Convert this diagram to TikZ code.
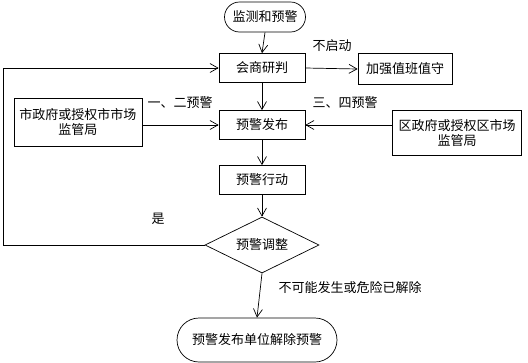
\documentclass[tikz,border=0pt]{standalone}
\usepackage{fontspec}
\setmainfont{Noto Sans CJK SC}
\usetikzlibrary{arrows.meta, shapes.geometric, shapes.misc}

\begin{document}
\begin{tikzpicture}[
    x=1pt, y=-1pt,
    line width=0.7pt,
    font=\fontsize{13}{15.5}\selectfont,
    >={Straight Barb[length=8pt,width=9pt]},
    stepbox/.style={
        draw, rectangle,
        minimum width=86pt,
        minimum height=29pt,
        inner sep=2pt
    },
    orgbox/.style={
        draw, rectangle,
        align=center,
        inner sep=2pt
    },
    endpoint/.style={
        draw, rounded rectangle,
        inner sep=2pt
    },
    choice/.style={
        draw, diamond, aspect=2,
        minimum width=114pt,
        minimum height=56pt,
        inner sep=0pt
    }
]
    % 画布大小
    \useasboundingbox (0,0) rectangle (528,362);

    % 主流程节点
    \node[endpoint, minimum width=85pt, minimum height=30pt] (monitor) at (265,17) {监测和预警};
    \node[stepbox] (consult) at (262,68) {会商研判};
    \node[stepbox, minimum width=94pt, minimum height=31pt] (duty) at (405,69) {加强值班值守};
    \node[stepbox] (issue) at (262,125) {预警发布};
    \node[stepbox] (action) at (262,180) {预警行动};
    \node[choice] (adjust) at (262,245) {预警调整};
    \node[endpoint, minimum width=164pt, minimum height=44pt] (lift) at (257,340) {预警发布单位解除预警};

    % 两侧发布单位
    \node[orgbox, minimum width=128pt, minimum height=48pt] (cityorg) at (78,122) {市政府或授权市市场\\监管局};
    \node[orgbox, minimum width=129pt, minimum height=45pt] (districtorg) at (457,133) {区政府或授权区市场\\监管局};

    % 回到会商研判的转折点
    \coordinate (back) at (3,245);

    % 连线
    \draw[->] (monitor.south) -- (consult.north);
    \draw[->] (consult.east) -- (duty.west);
    \draw[->] (consult.south) -- (issue.north);
    \draw[->] (cityorg.east |- issue.west) -- (issue.west);
    \draw[->] (districtorg.west |- issue.east) -- (issue.east);
    \draw[->] (issue.south) -- (action.north);
    \draw[->] (action.south) -- (adjust.north);
    \draw[->] (adjust.south) -- (lift.north);
    \draw[->] (adjust.west) -- (back) |- (consult.west);

    % 连线标注
    \node (nostart) at (332,46) {不启动};
    \node (lvlonetwo) at (180,103) {一、二预警};
    \node (lvlthreefour) at (345,103) {三、四预警};
    \node (yes) at (158,219) {是};
    \node (cleared) at (350,288) {不可能发生或危险已解除};
\end{tikzpicture}
\end{document}
